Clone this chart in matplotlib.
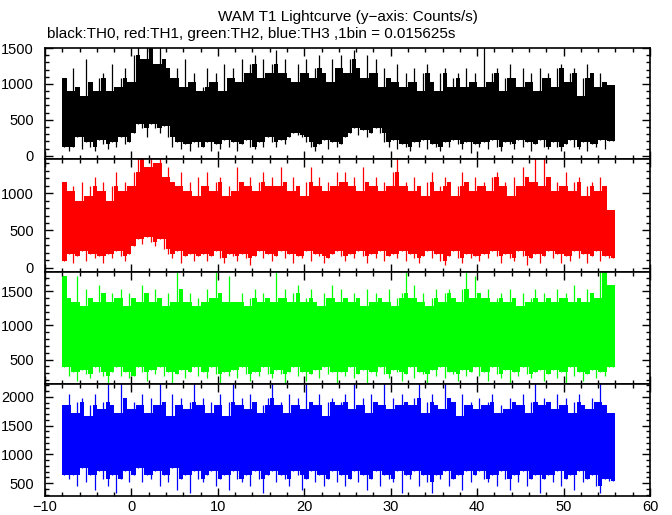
import numpy as np
import pandas as pd
import matplotlib
matplotlib.use('Agg')
import matplotlib.pyplot as plt
from matplotlib.ticker import MultipleLocator

plt.rcParams['font.family'] = ['Liberation Sans', 'DejaVu Sans']

# time bins of 0.5 s, upper / lower envelope of counts/s
t_start = -8.0
bin_w = 0.5

top_th0 = [1088, 896, 1216, 960, 832, 1344, 1024, 896, 1088, 1152, 896, 1280, 960, 1088, 1216, 1024,
           1408, 1536, 1344, 1600, 1536, 1280, 1600, 1344, 1216, 1088, 1216, 960, 1344, 1024, 1152, 896,
           960, 1216, 1024, 1152, 896, 1280, 1088, 1216, 1024, 1344, 1152, 1280, 1408, 1088, 1344, 1152,
           1280, 1472, 1152, 1344, 1088, 1024, 1280, 1152, 1344, 1088, 1216, 1408, 1152, 1024, 1344, 1216,
           1408, 1152, 1344, 1472, 1216, 1088, 1408, 1152, 1344, 960, 1216, 1088, 1024, 1280, 960, 1152,
           1024, 1216, 896, 1152, 1280, 1024, 896, 1152, 1216, 960, 1088, 1152, 960, 1216, 1024, 1152,
           960, 1600, 1024, 1152, 1216, 896, 1088, 1280, 1088, 960, 1216, 1024, 1152, 896, 1216, 1088,
           1152, 960, 1216, 1280, 1024, 1152, 1216, 832, 1088, 1280, 1152, 960, 1152, 1024, 984, 984]
bot_th0 = [128, 64, 128, 256, 96, 192, 128, 64, 224, 160, 96, 192, 128, 256, 160, 192,
           320, 448, 384, 256, 448, 384, 320, 416, 256, 128, 192, 96, 160, 64, 192, 128,
           128, 192, 64, 160, 96, 224, 128, 192, 64, 160, 224, 128, 96, 192, 128, 256,
           192, 128, 224, 160, 256, 320, 288, 256, 192, 128, 64, 160, 224, 96, 192, 128,
           160, 256, 320, 384, 288, 352, 256, 320, 384, 320, 192, 128, 224, 96, 160, 128,
           64, 192, 128, 224, 96, 160, 128, 64, 192, 128, 224, 160, 96, 192, 32, 160,
           128, 192, 96, 224, 128, 64, 192, 160, 96, 224, 128, 192, 64, 160, 224, 128,
           96, 192, 128, 64, 160, 224, 128, 96, 192, 64, 160, 128, 224, 96, 200, 200]

top_th1 = [1152, 1024, 1088, 896, 1152, 960, 1088, 1216, 1024, 1152, 896, 1088, 1280, 1024, 1152, 1088,
           1280, 1536, 1472, 1344, 1536, 1408, 1536, 1216, 1344, 1152, 1088, 1280, 1024, 1152, 960, 1216,
           1088, 1280, 1024, 1152, 1216, 960, 1088, 1024, 1344, 1152, 1088, 1216, 1024, 1152, 1280, 1088,
           1216, 1088, 1344, 1152, 1024, 1216, 1088, 960, 1152, 1344, 1088, 1216, 1024, 1152, 1088, 1280,
           1152, 1280, 1088, 1216, 1024, 1344, 1152, 1088, 1216, 1024, 1152, 1088, 1280, 1536, 1088, 1152,
           1024, 1216, 1088, 960, 1152, 1280, 1024, 1088, 1216, 1152, 960, 1088, 1280, 1152, 1024, 1216,
           1088, 1152, 1024, 1216, 1280, 1088, 1152, 960, 1216, 1088, 1344, 1216, 1152, 1536, 1088, 1536,
           1216, 1024, 1152, 1088, 1280, 1024, 1152, 1216, 960, 1088, 1152, 1024, 1216, 1088, 778, 778]
bot_th1 = [96, 192, 64, 160, 224, 96, 192, 128, 160, 64, 192, 128, 224, 160, 96, 192,
           288, 384, 320, 416, 352, 288, 384, 256, 192, 128, 224, 64, 160, 192, 96, 160,
           192, 96, 160, 224, 128, 64, 192, 160, 96, 192, 128, 32, 160, 224, 128, 192,
           96, 160, 224, 128, 192, 64, 160, 128, 224, 96, 192, 160, 64, 128, 192, 224,
           160, 96, 192, 128, 224, 160, 64, 192, 128, 224, 96, 160, 192, 128, 224, 96,
           192, 128, 64, 160, 224, 128, 192, 96, 32, 160, 224, 128, 64, 192, 128, 160,
           96, 192, 128, 224, 160, 64, 192, 128, 96, 224, 160, 32, 128, 192, 64, 160,
           224, 128, 192, 64, 160, 96, 224, 128, 192, 64, 160, 224, 96, 160, 128, 128]

top_th2 = [1728, 1408, 1344, 1728, 1280, 1536, 1408, 1344, 1600, 1472, 1344, 1472, 1408, 1536, 1280, 1472,
           1408, 1344, 1600, 1472, 1344, 1536, 1408, 1280, 1472, 1344, 1792, 1536, 1344, 1472, 1280, 1408,
           1344, 1536, 1408, 1792, 1472, 1344, 1728, 1344, 1344, 1472, 1280, 1408, 1536, 1344, 1472, 1408,
           1344, 1792, 1408, 1536, 1344, 1472, 1600, 1344, 1408, 1536, 1344, 1280, 1472, 1408, 1600, 1344,
           1536, 1408, 1344, 1472, 1408, 1280, 1536, 1344, 1472, 1408, 1344, 1536, 1280, 1408, 1472, 1792,
           1408, 1600, 1344, 1472, 1280, 1408, 1536, 1344, 1472, 1536, 1408, 1344, 1536, 1792, 1408, 1728,
           1472, 1408, 1536, 1344, 1408, 1472, 1344, 1536, 1408, 1280, 1472, 1344, 1408, 1536, 1344, 1472,
           1408, 1344, 1536, 1408, 1472, 1344, 1600, 1408, 1344, 1536, 1472, 1408, 1792, 1792, 1600, 1600]
bot_th2 = [384, 256, 320, 192, 352, 288, 224, 384, 320, 256, 160, 320, 384, 256, 320, 224,
           256, 384, 320, 192, 352, 288, 384, 256, 320, 160, 288, 352, 224, 320, 384, 256,
           320, 224, 384, 288, 160, 320, 256, 352, 224, 384, 288, 192, 320, 256, 384, 288,
           224, 352, 288, 160, 320, 384, 256, 320, 192, 288, 352, 224, 384, 288, 320, 160,
           320, 256, 384, 224, 288, 352, 160, 320, 256, 384, 288, 224, 352, 320, 192, 288,
           384, 224, 320, 288, 160, 352, 256, 384, 224, 320, 288, 192, 352, 256, 320, 384,
           256, 320, 192, 384, 288, 224, 352, 160, 320, 256, 384, 288, 224, 320, 352, 192,
           288, 352, 224, 320, 160, 384, 256, 320, 192, 288, 352, 224, 320, 256, 384, 384]

top_th3 = [1856, 2048, 1728, 1920, 1984, 1664, 1856, 2048, 1792, 1920, 2240, 1856, 1728, 2240, 1984, 1792,
           1920, 1856, 2048, 1728, 1984, 1856, 2240, 1920, 1664, 2048, 1856, 1984, 1792, 1920, 2240, 1856,
           1984, 1728, 1920, 1856, 2048, 1664, 1920, 2240, 1856, 1984, 1792, 2048, 1920, 1728, 1856, 1984,
           2240, 1856, 1920, 1728, 2048, 1856, 1984, 1792, 2240, 1920, 1856, 2048, 1664, 1920, 1984, 1856,
           1920, 2048, 1792, 2240, 1856, 1984, 1728, 2048, 1920, 1856, 2240, 1792, 1984, 1856, 2048, 1920,
           1856, 1984, 2240, 1728, 1920, 2048, 1856, 1792, 2240, 1984, 1920, 1664, 2048, 1856, 1920, 1792,
           1984, 1856, 1920, 2048, 1728, 1856, 1792, 1984, 1920, 1856, 2048, 1728, 1920, 2240, 1856, 1984,
           1920, 1792, 2048, 1856, 1984, 1728, 1920, 2048, 1856, 1792, 1984, 1920, 2240, 1856, 1728, 1728]
bot_th3 = [640, 576, 640, 448, 768, 512, 640, 384, 704, 576, 448, 640, 320, 576, 704, 512,
           640, 768, 512, 640, 576, 704, 448, 640, 512, 768, 384, 576, 640, 320, 704, 576,
           512, 640, 704, 448, 576, 640, 384, 704, 576, 512, 640, 448, 704, 576, 320, 640,
           704, 512, 640, 576, 448, 704, 640, 384, 576, 704, 512, 640, 448, 576, 704, 512,
           640, 448, 576, 704, 512, 640, 384, 576, 704, 448, 640, 576, 512, 704, 320, 640,
           576, 704, 448, 640, 512, 320, 640, 576, 704, 448, 576, 640, 384, 704, 512, 640,
           704, 576, 512, 640, 448, 704, 576, 384, 640, 512, 704, 448, 576, 640, 320, 576,
           640, 512, 704, 448, 576, 640, 384, 704, 512, 576, 640, 448, 320, 576, 544, 544]

panels = [
    (top_th0, bot_th0, 'black', (-45, 1500)),
    (top_th1, bot_th1, '#ff0000', (-55, 1455)),
    (top_th2, bot_th2, '#00ff00', (142, 1784)),
    (top_th3, bot_th3, '#0000ff', (274, 2226)),
]

fig = plt.figure(figsize=(6.72, 5.15), dpi=100)

left, right = 45 / 672, 650 / 672
edges_px = [48, 159, 272, 384, 496]

for k, (top, bot, color, ylim) in enumerate(panels):
    y0 = 1 - edges_px[k + 1] / 515
    y1 = 1 - edges_px[k] / 515
    ax = fig.add_axes([left, y0, right - left, y1 - y0])

    top = np.array(top, dtype=float)
    bot = np.array(bot, dtype=float)
    n = len(top)
    t = t_start + bin_w * np.arange(n)

    # solid core where neighbouring bins overlap
    core_hi = pd.Series(top).rolling(2, min_periods=1).min().values
    core_lo = pd.Series(bot).rolling(2, min_periods=1).max().values
    tt = np.append(t, t[-1] + bin_w)
    ax.fill_between(tt, np.append(core_lo, core_lo[-1]), np.append(core_hi, core_hi[-1]),
                    step='post', color=color, lw=0)

    # spikes of each bin
    ax.vlines(t + bin_w / 2, bot, top, color=color, lw=0.9)

    ax.set_xlim(-10, 60)
    ax.set_ylim(*ylim)
    ax.xaxis.set_major_locator(MultipleLocator(10))
    ax.xaxis.set_minor_locator(MultipleLocator(2))
    ax.yaxis.set_major_locator(MultipleLocator(500))
    ax.yaxis.set_minor_locator(MultipleLocator(100))
    ax.tick_params(which='both', direction='in', top=True, right=True, width=1, labelsize=10.5)
    ax.tick_params(which='major', length=6)
    ax.tick_params(which='minor', length=3)
    ax.tick_params(axis='y', pad=8)
    ax.tick_params(axis='x', pad=3)
    for s in ax.spines.values():
        s.set_linewidth(1.2)
    if k < 3:
        ax.set_xticklabels([])

fig.text((left + right) / 2, 1 - 17 / 515, 'WAM T1 Lightcurve (y\u2212axis: Counts/s)',
         ha='center', va='center', fontsize=11)
fig.text(47 / 672, 1 - 34 / 515, 'black:TH0, red:TH1, green:TH2, blue:TH3 ,1bin = 0.015625s',
         ha='left', va='center', fontsize=11)

fig.savefig('out.png', dpi=100)
